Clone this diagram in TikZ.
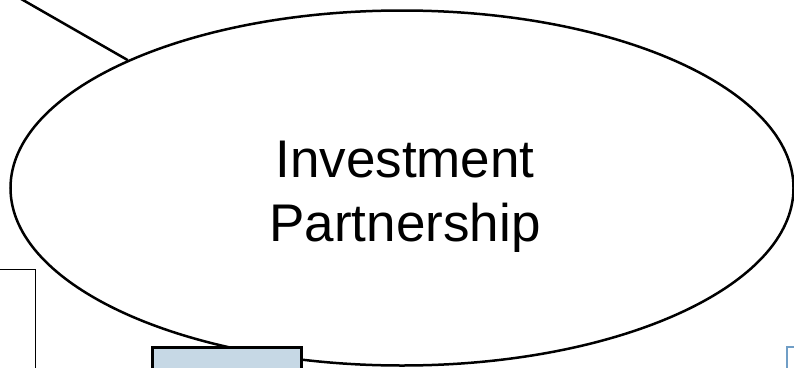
\documentclass[tikz,border=0pt]{standalone}
\usepackage{fontspec}
\setmainfont{Liberation Sans}
\usepackage{tikz}
\usetikzlibrary{positioning,shapes.geometric}
\definecolor{boxfill}{RGB}{198,216,229}
\definecolor{boxedge}{RGB}{112,158,198}

\begin{document}
\begin{tikzpicture}[x=1pt,y=-1pt,
  partner/.style={draw,ellipse,line width=2.5pt,inner sep=0pt,
    minimum width=783pt,minimum height=355pt,align=center,
    font=\fontsize{53}{64}\selectfont},
  plainbox/.style={draw,line width=1.1pt,inner sep=0pt,minimum width=60pt,minimum height=120pt},
  bluebox/.style={draw,fill=boxfill,line width=2.5pt,inner sep=0pt,minimum width=149pt,minimum height=40pt},
  paleedge/.style={draw,boxedge,line width=1.8pt,inner sep=0pt,minimum width=40pt,minimum height=40pt}]
  \useasboundingbox (0,0) rectangle (794,367);
  \clip (0,0) rectangle (794,367);

  % central ellipse
  \node[partner] (invest) at (402,188) {\rule{0pt}{53pt}\hspace*{6pt}Investment\\\hspace*{6pt}Partnership};

  % link leaving the top edge
  \coordinate (lead) at (5.5,-10);
  \draw[line width=2.5pt] (lead) -- (invest.155.6);

  % boxes cut off at the bottom
  \node[plainbox,anchor=north east] (leftbox) at (36,269) {};
  \node[bluebox,anchor=north west] (midbox) at (151,346) {};
  \node[paleedge,anchor=north west] (rightbox) at (786,346) {};
\end{tikzpicture}
\end{document}
